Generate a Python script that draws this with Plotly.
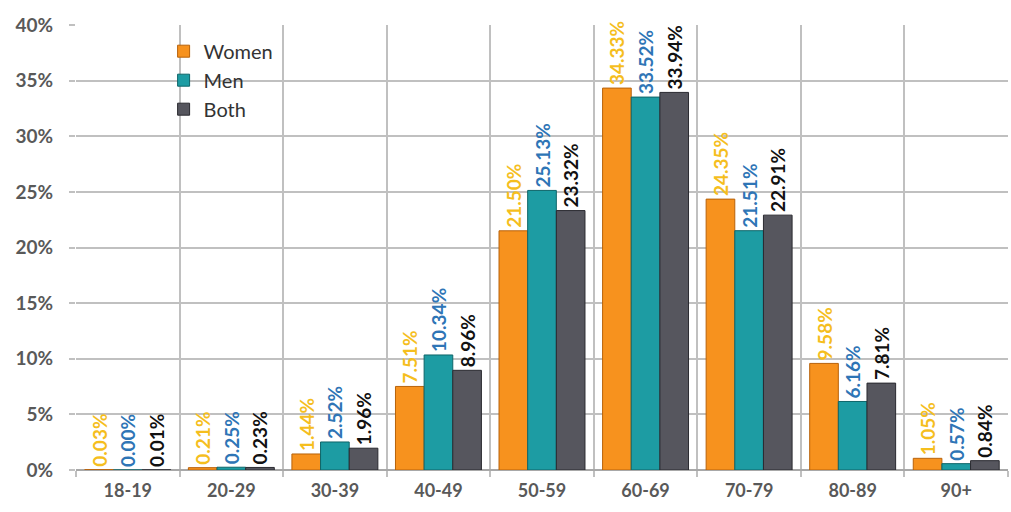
import plotly.graph_objects as go

categories = ["18-19", "20-29", "30-39", "40-49", "50-59", "60-69", "70-79", "80-89", "90+"]
women = [0.03, 0.21, 1.44, 7.51, 21.50, 34.33, 24.35, 9.58, 1.05]
men = [0.00, 0.25, 2.52, 10.34, 25.13, 33.52, 21.51, 6.16, 0.57]
both = [0.01, 0.23, 1.96, 8.96, 23.32, 33.94, 22.91, 7.81, 0.84]
y_ticks = [0, 5, 10, 15, 20, 25, 30, 35, 40]
y_tick_labels = ["0%", "5%", "10%", "15%", "20%", "25%", "30%", "35%", "40%"]

series = [
    ("Women", women, "#F7921E", "#B8620A", "#F5BE1E"),
    ("Men", men, "#1D9CA3", "#0E6569", "#2E75B6"),
    ("Both", both, "#56565E", "#2A2A30", "#111111"),
]

fig = go.Figure()
for name, vals, col, line, tcol in series:
    fig.add_trace(go.Bar(
        name=name, x=categories, y=vals,
        marker=dict(color=col, line=dict(color=line, width=1)),
        text=[f"{v:.2f}%" for v in vals],
        textposition="outside", textangle=-90, constraintext="none",
        cliponaxis=False,
        textfont=dict(color=tcol, size=19, family="Lato", weight="bold"),
    ))

fig.update_layout(
    width=1011, height=512,
    margin=dict(l=76, r=3, t=25, b=42),
    paper_bgcolor="white", plot_bgcolor="white",
    barmode="group", bargap=0.17, bargroupgap=0.0,
    font=dict(family="Lato", color="#595959"),
    legend=dict(x=0.094, y=0.985, xanchor="left", yanchor="top",
                font=dict(size=20, color="#333333"), bgcolor="rgba(0,0,0,0)",
                itemwidth=30, tracegroupgap=2),
    xaxis=dict(tickson="boundaries", showgrid=True, gridcolor="#C0C0C0", gridwidth=2,
               ticks="outside", ticklen=6, tickcolor="#C0C0C0", tickwidth=2,
               ticklabelstandoff=8,
               tickfont=dict(size=18, color="#595959", weight="bold"), showline=False,
               range=[-0.5, 8.5]),
    yaxis=dict(range=[0, 40], tickvals=y_ticks, ticktext=y_tick_labels, showgrid=True,
               gridcolor="#C0C0C0", gridwidth=2, ticks="outside", ticklen=6,
               tickcolor="#C0C0C0", tickwidth=2, zeroline=True, zerolinecolor="#A8A8A8",
               ticklabelstandoff=12,
               zerolinewidth=2, tickfont=dict(size=19, color="#595959", weight="bold")),
)

fig.write_html("out.html")
